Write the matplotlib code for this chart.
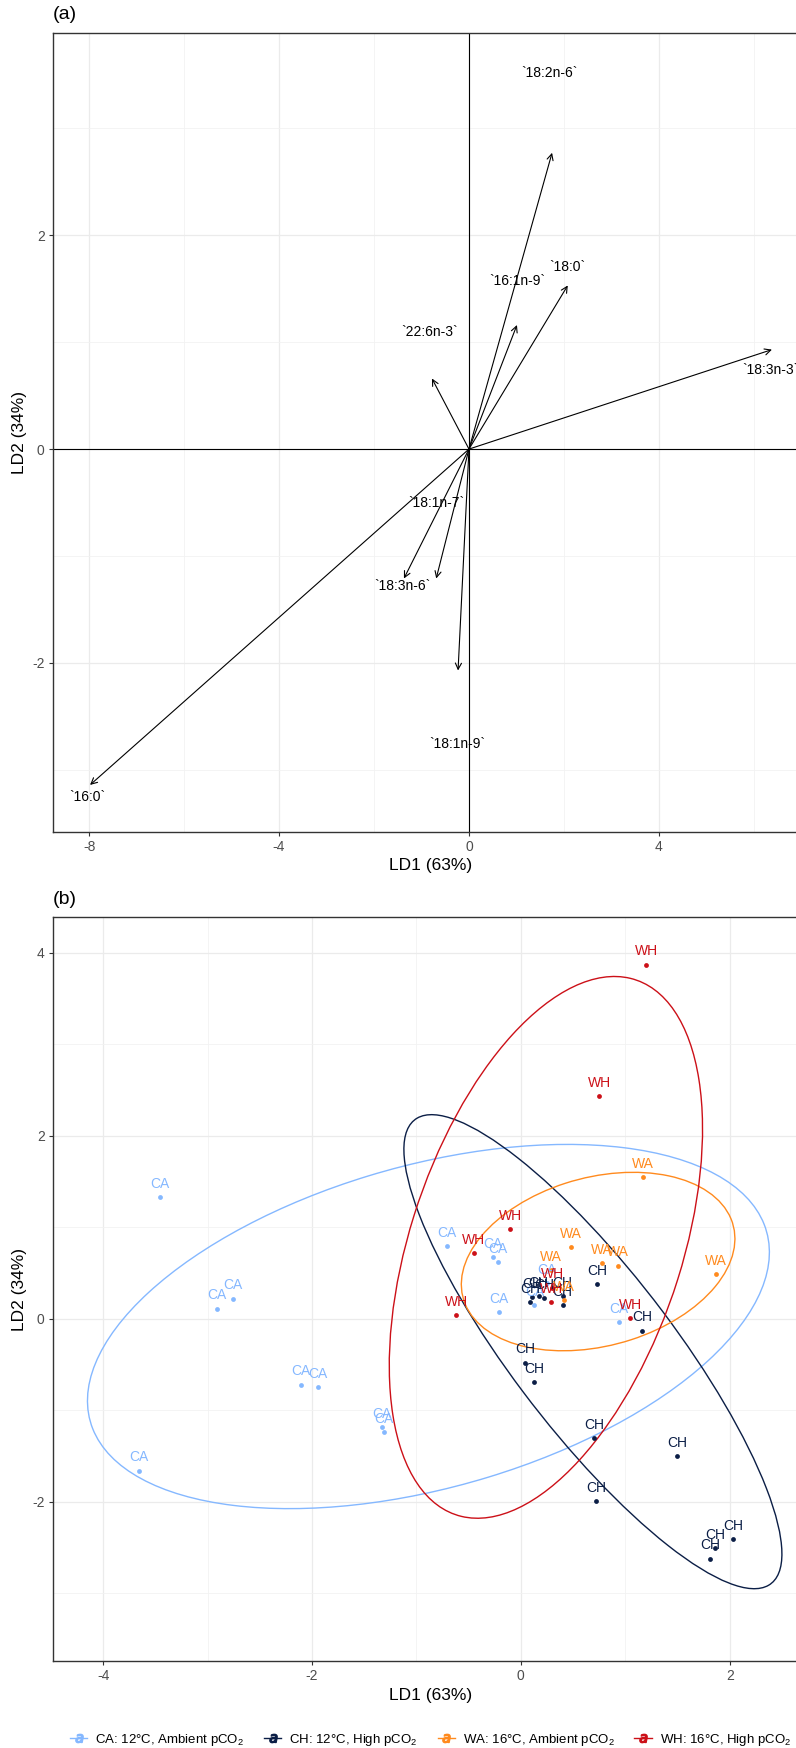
import numpy as np
import matplotlib.pyplot as plt
from matplotlib.patches import Ellipse
from matplotlib.lines import Line2D

plt.rcParams['font.family'] = ['Liberation Sans', 'DejaVu Sans']
plt.rcParams['mathtext.fontset'] = 'custom'
plt.rcParams['mathtext.rm'] = 'Liberation Sans'
plt.rcParams['axes.unicode_minus'] = False

# panel (a): loading vectors
var_names = ['`18:2n-6`', '`18:0`', '`16:1n-9`', '`22:6n-3`', '`18:3n-3`',
             '`18:1n-7`', '`18:3n-6`', '`18:1n-9`', '`16:0`']
vec_x = [1.75, 2.08, 1.01, -0.78, 6.38, -0.69, -1.37, -0.23, -7.98]
vec_y = [2.77, 1.53, 1.16, 0.66, 0.93, -1.21, -1.21, -2.07, -3.14]
lab_x = [1.70, 2.08, 1.01, -0.82, 6.34, -0.69, -1.41, -0.25, -8.04]
lab_y = [3.52, 1.70, 1.57, 1.09, 0.74, -0.50, -1.28, -2.76, -3.25]

# panel (b): LD scores per group
groups = ['CA', 'CH', 'WA', 'WH']
legend_labels = [r'CA: 12°C, Ambient pCO$_2$', r'CH: 12°C, High pCO$_2$',
                 r'WA: 16°C, Ambient pCO$_2$', r'WH: 16°C, High pCO$_2$']
colors = {'CA': '#85B8FF', 'CH': '#0B1E46', 'WA': '#FF8A1E', 'WH': '#CC1018'}

ca_x = [-3.46, -2.91, -2.76, -2.11, -1.94, -1.33, -1.31, -3.66, -0.71, -0.27, -0.22, -0.21, 0.94, 0.13, 0.25]
ca_y = [1.33, 0.11, 0.22, -0.72, -0.75, -1.18, -1.24, -1.66, 0.79, 0.67, 0.62, 0.07, -0.04, 0.15, 0.39]
ch_x = [0.73, 1.16, 0.04, 0.13, 0.09, 0.11, 0.17, 0.22, 0.40, 0.40, 0.70, 1.50, 0.72, 2.03, 1.86, 1.81]
ch_y = [0.38, -0.13, -0.48, -0.69, 0.18, 0.24, 0.25, 0.23, 0.25, 0.15, -1.30, -1.50, -1.99, -2.41, -2.51, -2.62]
wa_x = [1.17, 0.48, 0.78, 0.93, 1.87, 0.29, 0.41]
wa_y = [1.55, 0.78, 0.61, 0.58, 0.49, 0.53, 0.20]
wh_x = [1.20, 0.75, -0.10, -0.45, -0.62, 1.05, 0.29, 0.30]
wh_y = [3.87, 2.43, 0.98, 0.72, 0.04, 0.01, 0.18, 0.34]
scores = {'CA': (ca_x, ca_y), 'CH': (ch_x, ch_y), 'WA': (wa_x, wa_y), 'WH': (wh_x, wh_y)}

# 95% ellipses: centre, half x-extent, half y-extent, covariance term
ell_cx = [-0.885, 0.69, 0.74, 0.24]
ell_cy = [-0.085, -0.36, 0.625, 0.78]
ell_sx = [3.265, 1.81, 1.31, 1.50]
ell_sy = [1.99, 2.59, 0.975, 2.96]
ell_sxy = [2.65, -4.0, 0.327, 1.94]

fig = plt.figure(figsize=(7.96, 17.48), dpi=100)
ax1 = fig.add_axes([0.0666, 0.52403, 0.9485, 0.45709])
ax2 = fig.add_axes([0.0666, 0.04977, 0.9485, 0.42563])

def style(ax):
    ax.set_axisbelow(True)
    ax.grid(True, which='major', color='#EBEBEB', lw=0.9)
    ax.grid(True, which='minor', color='#F2F2F2', lw=0.6)
    for s in ax.spines.values():
        s.set_color('#333333')
        s.set_linewidth(1.0)
    ax.tick_params(which='major', length=3, width=0.8, color='#333333',
                   labelsize=10, labelcolor='#4D4D4D', pad=3)
    ax.tick_params(which='minor', length=0)
    ax.set_xlabel('LD1 (63%)', fontsize=12.5, labelpad=3)
    ax.set_ylabel('LD2 (34%)', fontsize=12.5, labelpad=4)

# ---- panel (a)
style(ax1)
ax1.set_xlim(-8.76, 7.14)
ax1.set_ylim(-3.58, 3.89)
ax1.set_xticks([-8, -4, 0, 4])
ax1.set_xticks([-6, -2, 2, 6], minor=True)
ax1.set_yticks([-2, 0, 2])
ax1.set_yticks([-3, -1, 1, 3], minor=True)
ax1.axhline(0, color='black', lw=0.8)
ax1.axvline(0, color='black', lw=0.8)
for i in range(len(var_names)):
    ax1.annotate('', xy=(vec_x[i], vec_y[i]), xytext=(0, 0),
                 arrowprops=dict(arrowstyle='->', lw=0.8, color='black',
                                 mutation_scale=11, shrinkA=0, shrinkB=0))
    ax1.text(lab_x[i], lab_y[i], var_names[i], ha='center', va='center', fontsize=10)
ax1.text(0, 1.012, '(a)', transform=ax1.transAxes, fontsize=14, ha='left', va='bottom')

# ---- panel (b)
style(ax2)
ax2.set_xlim(-4.48, 2.75)
ax2.set_ylim(-3.74, 4.39)
ax2.set_xticks([-4, -2, 0, 2])
ax2.set_xticks([-3, -1, 1], minor=True)
ax2.set_yticks([-2, 0, 2, 4])
ax2.set_yticks([-3, -1, 1, 3], minor=True)

for i, g in enumerate(groups):
    cov = np.array([[ell_sx[i] ** 2, ell_sxy[i]], [ell_sxy[i], ell_sy[i] ** 2]])
    vals, vecs = np.linalg.eigh(cov)
    ang = np.degrees(np.arctan2(vecs[1, 1], vecs[0, 1]))
    ax2.add_patch(Ellipse((ell_cx[i], ell_cy[i]), 2 * np.sqrt(vals[1]), 2 * np.sqrt(vals[0]),
                          angle=ang, fill=False, edgecolor=colors[g], lw=1.0))

for g in groups:
    xs, ys = scores[g]
    ax2.scatter(xs, ys, s=12, color=colors[g], zorder=3, linewidths=0)
    for x, y in zip(xs, ys):
        ax2.annotate(g, (x, y), xytext=(0, 9.5), textcoords='offset points',
                     ha='center', va='center', fontsize=10, color=colors[g], zorder=4)
ax2.text(0, 1.012, '(b)', transform=ax2.transAxes, fontsize=14, ha='left', va='bottom')

handles = [Line2D([], [], color=colors[g], lw=1, marker='$a$', markersize=6) for g in groups]
fig.legend(handles, legend_labels, loc='center', bbox_to_anchor=(0.541, 1 - 1740 / 1748),
           ncol=4, frameon=False, fontsize=9.5, handlelength=1.3, handletextpad=0.6,
           columnspacing=1.5)

fig.savefig('out.png', dpi=100)
